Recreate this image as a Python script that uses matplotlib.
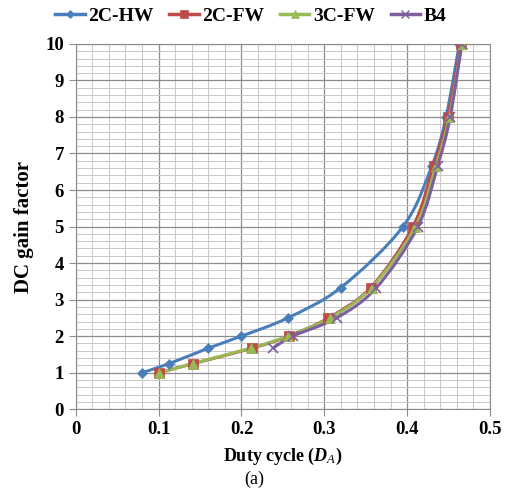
import numpy as np
import matplotlib
matplotlib.use("Agg")
import matplotlib.pyplot as plt
from matplotlib.path import Path
from matplotlib.patches import PathPatch
from matplotlib.lines import Line2D
from matplotlib.ticker import MultipleLocator

plt.rcParams['font.family'] = ['Liberation Serif', 'DejaVu Serif']
plt.rcParams['mathtext.fontset'] = 'custom'
plt.rcParams['mathtext.it'] = 'Liberation Serif:italic:bold'
plt.rcParams['mathtext.rm'] = 'Liberation Serif:bold'
plt.rcParams['mathtext.sf'] = 'Liberation Serif:italic'

series_names = ['2C-HW', '2C-FW', '3C-FW', 'B4']
hw_x = [0.080, 0.113, 0.160, 0.200, 0.256, 0.320, 0.395, 0.430, 0.447, 0.463]
hw_y = [1.0, 1.25, 1.67, 2.0, 2.5, 3.33, 5.0, 6.67, 8.0, 10.0]
fw2_x = [0.101, 0.142, 0.213, 0.257, 0.305, 0.356, 0.407, 0.432, 0.449, 0.465]
fw2_y = [1.0, 1.25, 1.67, 2.0, 2.5, 3.33, 5.0, 6.67, 8.0, 10.0]
fw3_x = [0.101, 0.141, 0.211, 0.256, 0.307, 0.357, 0.410, 0.435, 0.451, 0.466]
fw3_y = [1.0, 1.25, 1.67, 2.0, 2.5, 3.33, 5.0, 6.67, 8.0, 10.0]
b4_x = [0.238, 0.262, 0.315, 0.363, 0.413, 0.437, 0.452, 0.466]
b4_y = [1.67, 2.0, 2.5, 3.33, 5.0, 6.67, 8.0, 10.0]

colors = ['#4A7EBB', '#BE4B48', '#98B954', '#7D5FA0']
markers = ['D', 's', '^', 'x']
msizes = [5, 7, 7, 7]

fig = plt.figure(figsize=(5.12, 4.99), dpi=100)
ax = fig.add_axes([0.148, 0.180, 0.809, 0.732])


def smooth_path(xs, ys, t=0.5 / 3):
    # Excel-style smoothed line: cubic Bezier through the data points
    n = len(xs)
    verts = [(xs[0], ys[0])]
    codes = [Path.MOVETO]
    for i in range(n - 1):
        x0, y0 = (xs[i - 1], ys[i - 1]) if i > 0 else (xs[i], ys[i])
        x1, y1 = xs[i], ys[i]
        x2, y2 = xs[i + 1], ys[i + 1]
        x3, y3 = (xs[i + 2], ys[i + 2]) if i + 2 < n else (xs[i + 1], ys[i + 1])
        c1 = (x1 + (x2 - x0) * t, y1 + (y2 - y0) * t)
        c2 = (x2 - (x3 - x1) * t, y2 - (y3 - y1) * t)
        verts += [c1, c2, (x2, y2)]
        codes += [Path.CURVE4] * 3
    return Path(verts, codes)


data = [(hw_x, hw_y), (fw2_x, fw2_y), (fw3_x, fw3_y), (b4_x, b4_y)]
handles = []
for (xs, ys), c, m, ms, name in zip(data, colors, markers, msizes, series_names):
    p = smooth_path(xs, ys)
    ax.add_patch(PathPatch(p, facecolor='none', edgecolor=c, lw=2.2, zorder=3))
    ax.plot(xs, ys, linestyle='none', marker=m, color=c, ms=ms,
            mew=1.2 if m == 'x' else 0.5, zorder=4)
    handles.append(Line2D([0], [0], color=c, lw=2.5, marker=m, ms=ms - 1,
                          mew=1.0 if m == 'x' else 0.5))

ax.set_xlim(0, 0.5)
ax.set_ylim(0, 10)
ax.xaxis.set_major_locator(MultipleLocator(0.1))
ax.xaxis.set_minor_locator(MultipleLocator(0.02))
ax.yaxis.set_major_locator(MultipleLocator(1))
ax.yaxis.set_minor_locator(MultipleLocator(0.2))
ax.grid(which='major', color='#8c8c8c', lw=0.9, zorder=0)
ax.grid(which='minor', color='#c8c8c8', lw=0.7, zorder=0)
ax.set_axisbelow(True)
for s in ax.spines.values():
    s.set_color('#8c8c8c')
ax.tick_params(which='major', length=5, color='#8c8c8c', labelsize=13.5)
ax.tick_params(which='minor', length=0)
ax.set_xticks([0, 0.1, 0.2, 0.3, 0.4, 0.5])
ax.set_xticklabels(['0', '0.1', '0.2', '0.3', '0.4', '0.5'])
for lbl in ax.get_xticklabels() + ax.get_yticklabels():
    lbl.set_fontweight('bold')

ax.set_ylabel('DC gain factor', fontsize=15, fontweight='bold', labelpad=8)
ax.set_xlabel(r'Duty cycle ($D_{\mathsf{A}}$)', fontsize=13, fontweight='bold', labelpad=6)
fig.text(0.497, 0.030, '(a)', fontsize=13, ha='center')

fig.legend(handles, series_names, loc='center', bbox_to_anchor=(0.49, 0.968),
           ncol=4, frameon=False, prop={'weight': 'bold', 'size': 14},
           handlelength=1.5, handletextpad=0.2, columnspacing=0.8)

fig.savefig('out.png', dpi=100)
